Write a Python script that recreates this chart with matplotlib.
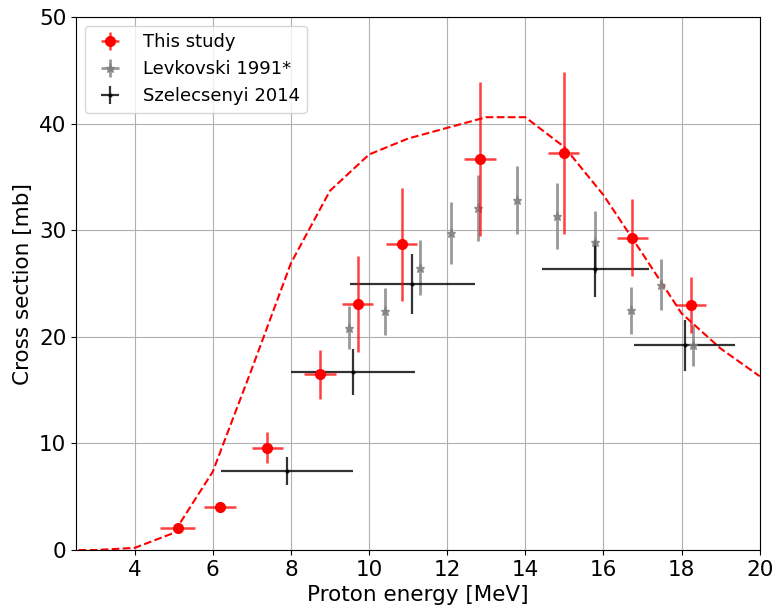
import matplotlib
matplotlib.use("Agg")
import matplotlib.pyplot as plt

# This study
study_e = [5.10, 6.18, 7.40, 8.74, 9.71, 10.84, 12.84, 14.98, 16.74, 18.24]
study_de = [0.44, 0.41, 0.40, 0.41, 0.39, 0.40, 0.40, 0.40, 0.39, 0.38]
study_xs = [2.1, 4.05, 9.6, 16.5, 23.1, 28.7, 36.7, 37.2, 29.3, 23.0]
study_dxs = [0.3, 0.38, 1.45, 2.3, 4.5, 5.3, 7.2, 7.6, 3.6, 2.6]

# Levkovski 1991 (no energy uncertainty given)
lev_e = [9.49, 10.40, 11.31, 12.10, 12.78, 13.78, 14.80, 15.79, 16.71, 17.48, 18.29]
lev_de = [0.0] * len(lev_e)
lev_xs = [20.85, 22.4, 26.5, 29.7, 32.1, 32.8, 31.3, 28.9, 22.5, 24.9, 19.2]
lev_dxs = [2.0, 2.2, 2.6, 2.9, 3.1, 3.2, 3.1, 2.9, 2.2, 2.4, 1.9]

# Szelecsenyi 2014
sz_e = [7.89, 9.59, 11.10, 15.79, 18.08]
sz_de = [1.69, 1.59, 1.60, 1.37, 1.30]
sz_xs = [7.4, 16.7, 24.95, 26.4, 19.2]
sz_dxs = [1.3, 2.2, 2.8, 2.65, 2.4]

# Model calculation
model_e = [2, 3, 4, 5, 6, 7, 8, 9, 10, 11, 12, 13, 14, 15, 16, 17, 18, 19, 20]
model_xs = [0.0, 0.0, 0.2, 1.6, 7.35, 17.0, 26.9, 33.7, 37.1, 38.6, 39.6,
            40.6, 40.6, 37.8, 33.3, 27.8, 22.2, 18.9, 16.3]

fig = plt.figure(figsize=(7.76, 6.11), dpi=100)
ax = fig.add_axes([0.098, 0.0998, 0.881, 0.8724])

ax.plot(model_e, model_xs, color="red", linestyle="--", linewidth=1.5, zorder=2)

ax.errorbar(study_e, study_xs, xerr=study_de, yerr=study_dxs, fmt="o",
            color="red", ecolor=(1, 0, 0, 0.75), elinewidth=1.8,
            markersize=7, label="This study", zorder=4)
ax.errorbar(lev_e, lev_xs, xerr=lev_de, yerr=lev_dxs, fmt="*", color="gray",
            elinewidth=2.0, markersize=6.5, alpha=0.8,
            label="Levkovski 1991*", zorder=3)
ax.errorbar(sz_e, sz_xs, xerr=sz_de, yerr=sz_dxs, fmt=".", color="black",
            elinewidth=1.6, markersize=4, alpha=0.8,
            label="Szelecsenyi 2014", zorder=3)

ax.set_xlim(2.5, 20)
ax.set_ylim(0, 50)
ax.set_xticks([4, 6, 8, 10, 12, 14, 16, 18, 20])
ax.set_yticks([0, 10, 20, 30, 40, 50])
ax.tick_params(labelsize=15.5)
ax.grid(True, color="#b0b0b0", linewidth=0.8)
ax.set_axisbelow(True)

ax.set_xlabel("Proton energy [MeV]", fontsize=15.5)
ax.set_ylabel("Cross section [mb]", fontsize=15.5)
ax.legend(loc="upper left", fontsize=13)

fig.savefig("out.png", dpi=100)
